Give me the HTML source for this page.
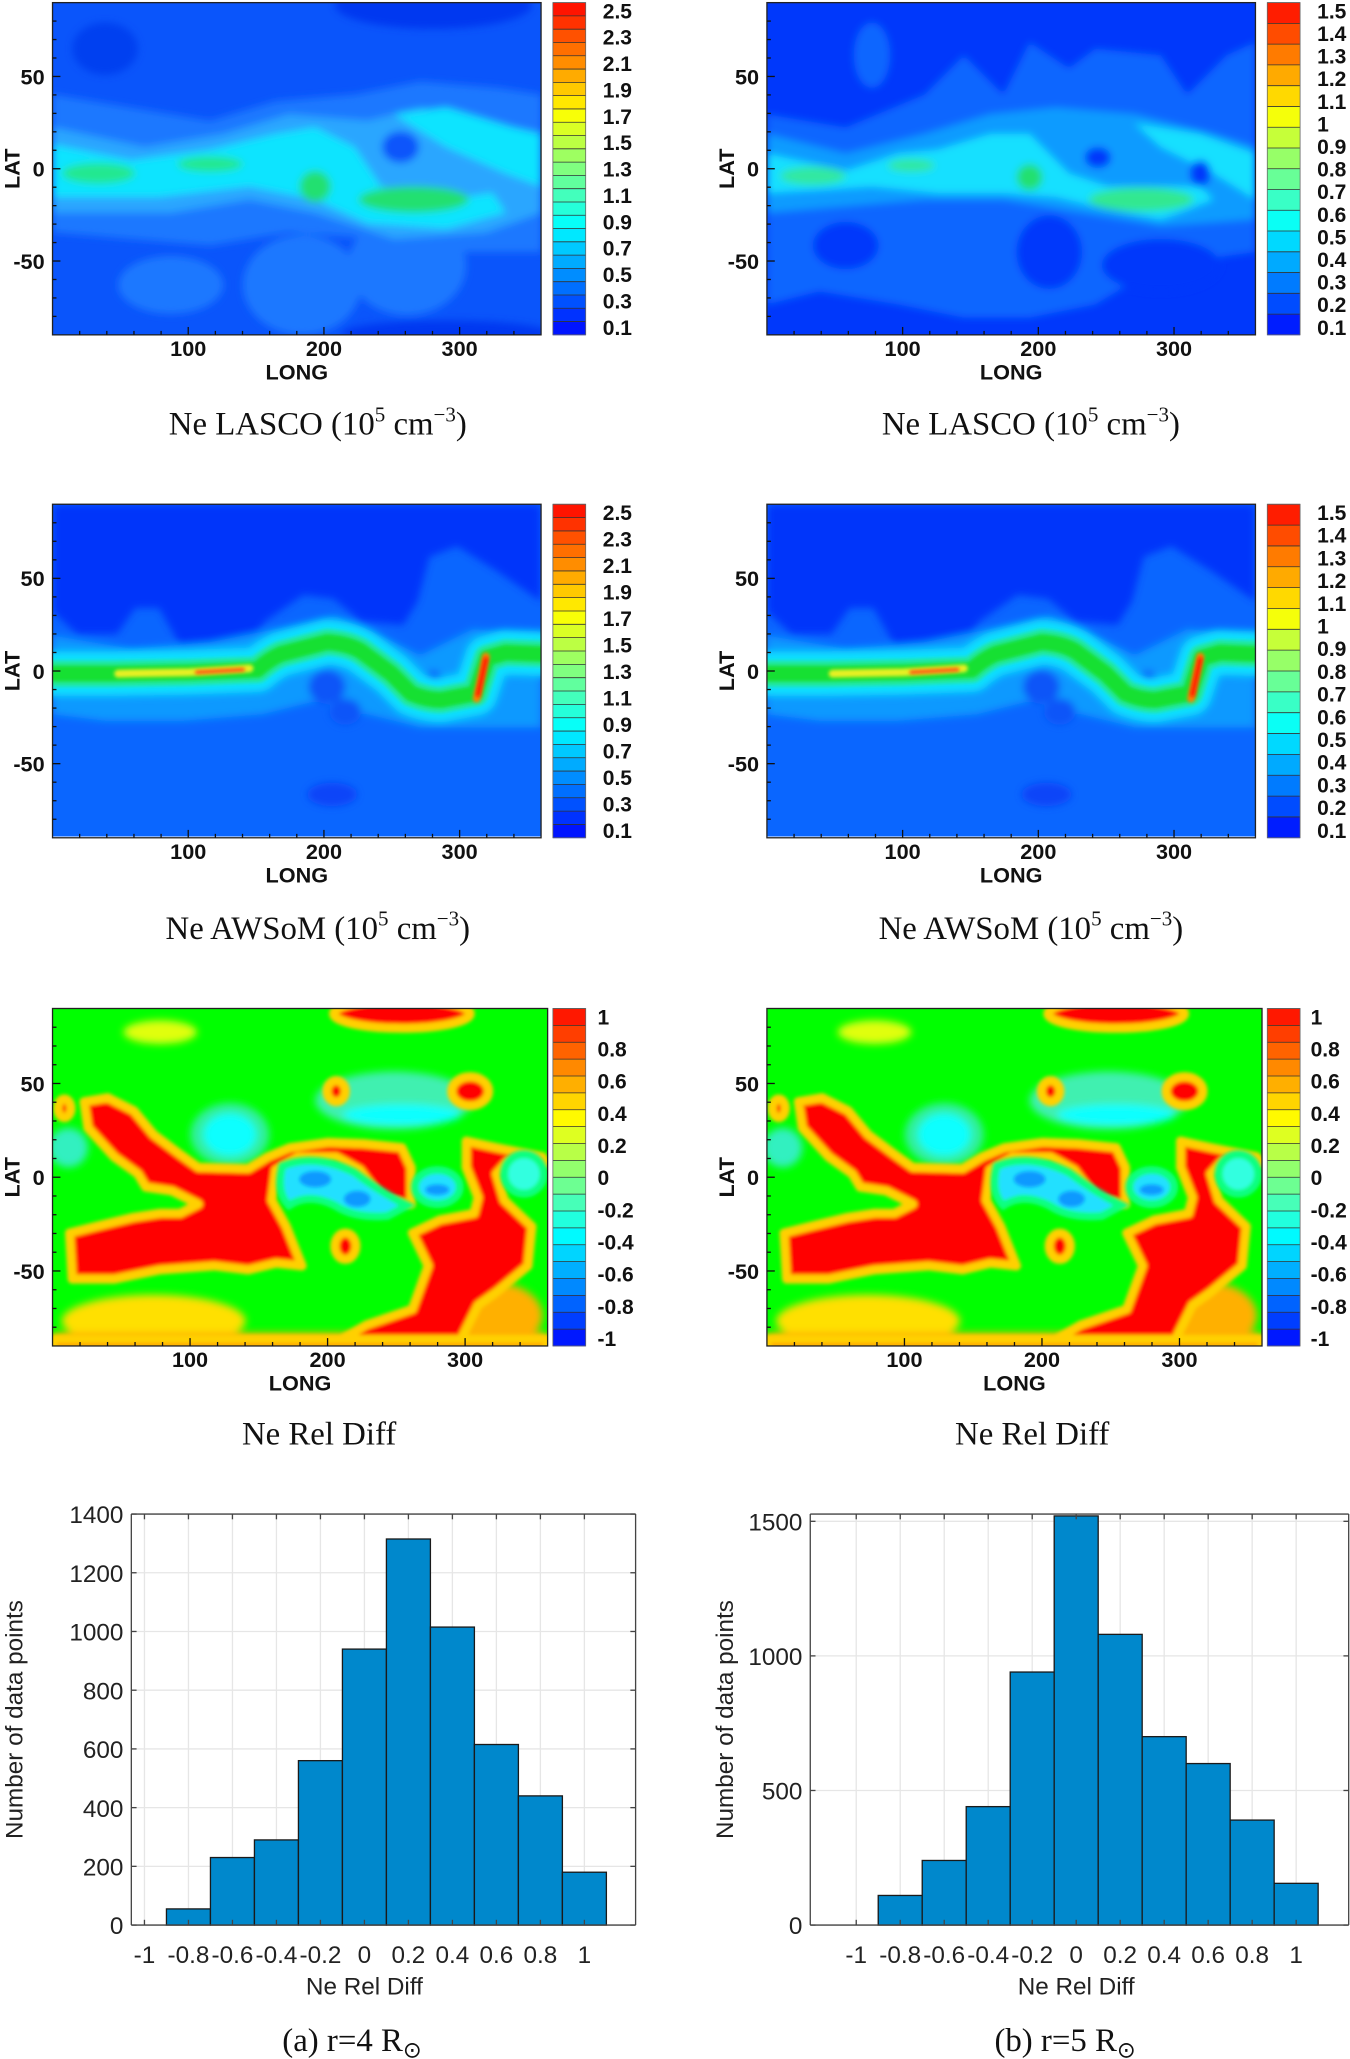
<!DOCTYPE html>
<html><head><meta charset="utf-8"><style>
html,body{margin:0;padding:0;background:#fff}
svg{display:block}
.ax{font-family:"Liberation Sans",sans-serif;font-weight:bold;font-size:16.5px;fill:#111}
.cb{font-family:"Liberation Sans",sans-serif;font-weight:bold;font-size:16px;fill:#111}
.cap{font-family:"Liberation Serif",serif;font-size:25px;fill:#111}
.h{font-family:"Liberation Sans",sans-serif;font-size:18.5px;fill:#222}
</style></head><body>
<svg id="fig" width="1350" height="2059" viewBox="0 0 1028 1568" preserveAspectRatio="none" xmlns="http://www.w3.org/2000/svg">
<defs>
<filter id="bl" filterUnits="userSpaceOnUse" x="-50" y="-50" width="500" height="400"><feGaussianBlur stdDeviation="3"/></filter>
<filter id="bs" filterUnits="userSpaceOnUse" x="-50" y="-50" width="500" height="400"><feGaussianBlur stdDeviation="1.5"/></filter>
<clipPath id="c1"><rect x="0" y="0" width="372" height="253"/></clipPath>
<clipPath id="c3"><rect x="0" y="0" width="377" height="257"/></clipPath>

<g id="lascoL">
 <rect x="0" y="0" width="372" height="253" fill="#0a55fb"/>
 <g filter="url(#bl)">
  <ellipse cx="290" cy="2" rx="75" ry="18" fill="#0038f0"/>
  <ellipse cx="300" cy="252" rx="80" ry="10" fill="#0038f0"/>
  <ellipse cx="40" cy="35" rx="25" ry="20" fill="#0040f0"/>
  <path d="M0,70 L60,80 L120,90 L170,75 L230,70 L280,60 L340,65 L372,70 L372,190 L300,190 L250,180 L180,175 L120,185 L60,180 L0,175Z" fill="#1a78ff"/>
  <ellipse cx="90" cy="215" rx="40" ry="22" fill="#1a78ff"/>
  <ellipse cx="190" cy="215" rx="45" ry="38" fill="#1a78ff"/>
  <ellipse cx="270" cy="200" rx="45" ry="38" fill="#1a78ff"/>
  <path d="M0,95 L70,110 L130,100 L180,85 L240,90 L280,80 L340,95 L372,100 L372,160 L330,175 L260,180 L200,160 L150,150 L90,160 L0,160Z" fill="#2aa6ff"/>
  <path d="M0,108 L60,120 L120,112 L170,100 L200,95 L230,110 L250,140 L300,150 L335,145 L345,160 L300,172 L240,168 L200,150 L150,140 L80,148 L0,148Z" fill="#10e4ff"/>
  <path d="M260,85 L300,80 L350,95 L372,100 L372,140 L345,130 L300,110 Z" fill="#10e4ff"/>
  <ellipse cx="35" cy="130" rx="28" ry="8" fill="#20e890"/>
  <ellipse cx="120" cy="123" rx="25" ry="6" fill="#20e890"/>
  <ellipse cx="200" cy="140" rx="12" ry="12" fill="#20e070"/>
  <ellipse cx="275" cy="150" rx="42" ry="10" fill="#20e070"/>
  <ellipse cx="265" cy="110" rx="14" ry="12" fill="#0a55fb"/>
 </g>
</g>

<g id="lascoR">
 <rect x="0" y="0" width="372" height="253" fill="#0038fb"/>
 <g filter="url(#bl)">
  <ellipse cx="80" cy="40" rx="14" ry="25" fill="#0a66ff"/>
  <path d="M0,85 L60,95 L120,70 L150,40 L180,70 L200,30 L230,50 L250,35 L300,40 L320,70 L350,40 L372,30 L372,190 L300,200 L250,230 L200,240 L150,240 L100,230 L40,220 L0,230Z" fill="#0a66ff"/>
  <ellipse cx="60" cy="185" rx="25" ry="18" fill="#0038fb"/>
  <ellipse cx="215" cy="190" rx="25" ry="28" fill="#0038fb"/>
  <ellipse cx="300" cy="200" rx="45" ry="20" fill="#0038fb"/>
  <path d="M0,100 L60,115 L120,100 L170,85 L220,80 L280,85 L340,100 L372,110 L372,165 L300,170 L240,160 L180,150 L120,150 L60,155 L0,160Z" fill="#0a9bff"/>
  <path d="M0,115 L60,128 L100,115 L130,112 L170,100 L200,100 L230,130 L260,140 L330,140 L340,150 L300,165 L250,155 L220,148 L180,145 L130,145 L80,140 L0,145Z" fill="#12e0ff"/>
  <path d="M280,92 L330,100 L372,115 L372,150 L340,130 L300,110Z" fill="#12e0ff"/>
  <ellipse cx="35" cy="132" rx="25" ry="7" fill="#30e8a0"/>
  <ellipse cx="110" cy="124" rx="18" ry="5" fill="#30e8a0"/>
  <ellipse cx="200" cy="133" rx="10" ry="10" fill="#20e070"/>
  <ellipse cx="285" cy="150" rx="40" ry="9" fill="#30e890"/>
  <ellipse cx="252" cy="118" rx="10" ry="8" fill="#0038fb"/>
  <ellipse cx="330" cy="130" rx="8" ry="10" fill="#0038fb"/>
 </g>
</g>

<g id="awsom">
 <rect x="0" y="0" width="372" height="254" fill="#0a66ff"/>
 <g filter="url(#bl)">
  <path d="M0,0 L372,0 L372,74 L337,50 L308,32 L287,40 L278,74 L267,92 L235,89 L214,72 L191,69 L162,89 L145,112 L98,109 L81,79 L63,79 L49,99 L19,99 L0,82Z" fill="#0036fa"/>
  <path d="M0,100 L60,110 L120,105 L170,95 L215,85 L250,100 L280,115 L320,95 L372,100 L372,170 L320,170 L280,170 L240,160 L200,150 L160,160 L100,165 L40,165 L0,160Z" fill="#0a99ff"/>
  <ellipse cx="209" cy="139" rx="14" ry="13" fill="#0a55f8"/>
  <ellipse cx="223" cy="158" rx="12" ry="10" fill="#0a55f8"/>
  <ellipse cx="213" cy="221" rx="19" ry="9" fill="#0a44f8"/>
  <ellipse cx="290" cy="133" rx="6" ry="6" fill="#0a44f8"/>
 </g>
 <g fill="none" stroke-linecap="round" stroke-linejoin="round">
  <path d="M-5,129 L46,129 L104,128 L156,126 Q165,118 174,114 L209,105 Q225,106 235,112 L258,129 L273,144 Q285,149 296,149 L322,144 L331,117 L345,113 L377,114" stroke="#10e0ff" stroke-width="34" filter="url(#bl)"/>
  <path d="M-5,129 L46,129 L104,128 L156,126 Q165,118 174,114 L209,105 Q225,106 235,112 L258,129 L273,144 Q285,149 296,149 L322,144 L331,117 L345,113 L377,114" stroke="#20e8a0" stroke-width="20" filter="url(#bs)"/>
  <path d="M0,129 L46,129 L104,128 L156,126 Q165,118 174,114 L209,105 Q225,106 235,112 L258,129 L273,144 Q285,149 296,149 L322,144 L331,117 L345,113 L372,114" stroke="#18e030" stroke-width="12" filter="url(#bs)"/>
  <path d="M50,129 L104,128 L150,125" stroke="#e8f020" stroke-width="6" filter="url(#bs)"/>
  <path d="M110,128 L145,126" stroke="#ff5010" stroke-width="3" filter="url(#bs)"/>
  <path d="M330,116 L323,148" stroke="#ff8000" stroke-width="6" filter="url(#bs)"/>
  <path d="M330,118 L324,145" stroke="#ff1000" stroke-width="3" filter="url(#bs)"/>
 </g>
</g>

<g id="rel">
 <rect x="0" y="0" width="377" height="257" fill="#00ff00"/>
 <g filter="url(#bl)">
  <ellipse cx="135" cy="96" rx="30" ry="24" fill="#30f0a0"/>
  <ellipse cx="260" cy="70" rx="60" ry="22" fill="#40f0b0"/>
  <ellipse cx="135" cy="96" rx="20" ry="16" fill="#10ffff"/>
  <ellipse cx="266" cy="81" rx="45" ry="8" fill="#10ffff"/>
  <ellipse cx="12" cy="106" rx="15" ry="15" fill="#30f0c0"/>
  <ellipse cx="82" cy="18" rx="28" ry="9" fill="#e0ff10"/>
  <ellipse cx="77" cy="238" rx="70" ry="20" fill="#ffe000"/>
  <ellipse cx="338" cy="234" rx="35" ry="25" fill="#ffb000"/>
  <rect x="0" y="247" width="377" height="10" fill="#ffb000"/>
 </g>
 <g stroke="#ffd000" stroke-width="7" stroke-linejoin="round" filter="url(#bs)">
  <path fill="#ff0000" d="M24,71 L42,68 L62,78 L77,96 L97,111 L111,121 L149,122 L164,113 L181,106 L210,102 L237,103 L266,106 L273,121 L273,149 L251,146 L234,123 L216,113 L187,113 L170,123 L167,146 L178,166 L190,196 L170,194 L149,199 L123,196 L82,199 L47,206 L15,206 L13,171 L33,166 L62,159 L82,156 L97,156 L111,149 L91,139 L71,136 L65,126 L47,113 L27,91Z"/>
  <path fill="#ff0000" d="M315,101 L338,106 L373,113 L376,118 L347,116 L338,126 L344,146 L365,166 L362,196 L338,216 L324,226 L309,256 L213,256 L239,241 L274,229 L286,196 L274,171 L295,161 L321,156 L324,144 L315,121Z"/>
  <ellipse cx="223" cy="181" rx="8" ry="10" fill="#ff0000"/>
  <ellipse cx="216" cy="63" rx="7" ry="8" fill="#ff0000"/>
  <ellipse cx="318" cy="63" rx="14" ry="11" fill="#ff0000"/>
  <ellipse cx="266" cy="4" rx="52" ry="11" fill="#ff0000"/>
  <ellipse cx="9" cy="76" rx="5" ry="7" fill="#ff2000"/>
  <rect x="0" y="252" width="377" height="8" fill="#ff2000"/>
 </g>
 <g stroke="#10ff80" stroke-width="6" filter="url(#bs)">
  <path fill="#20e0ff" d="M175,120 Q200,110 230,125 Q250,140 270,150 L255,158 Q230,160 215,150 Q195,140 180,150 Q170,140 175,120Z"/>
  <ellipse cx="293" cy="136" rx="17" ry="13" fill="#20e0ff"/>
  <ellipse cx="359" cy="126" rx="15" ry="15" fill="#30ffe0"/>
 </g>
 <g filter="url(#bs)">
  <ellipse cx="200" cy="130" rx="12" ry="6" fill="#0a99ff"/>
  <ellipse cx="232" cy="145" rx="10" ry="6" fill="#0a99ff"/>
  <ellipse cx="293" cy="138" rx="9" ry="4" fill="#0a99ff"/>
 </g>
</g>
</defs>

<g id="maps"></g>
<g id="hists"></g>
</svg>

<script>
// Histogram data (bin centers and counts)
const binCenters = [-0.8,-0.6,-0.4,-0.2,0,0.2,0.4,0.6,0.8,1.0];
const countsR4 = [55,230,290,560,940,1315,1015,615,440,180];
const countsR5 = [110,240,440,940,1520,1080,700,600,390,155];
const xTickLabels = ["-1","-0.8","-0.6","-0.4","-0.2","0","0.2","0.4","0.6","0.8","1"];
const xTickValues = [-1,-0.8,-0.6,-0.4,-0.2,0,0.2,0.4,0.6,0.8,1];
const yTicksR4 = [0,200,400,600,800,1000,1200,1400];
const yTicksR5 = [0,500,1000,1500];
const lonTicks = [100,200,300];
const latTicks = [50,0,-50];
const cbLevels25 = ["2.5","2.3","2.1","1.9","1.7","1.5","1.3","1.1","0.9","0.7","0.5","0.3","0.1"];
const cbLevels15 = ["1.5","1.4","1.3","1.2","1.1","1","0.9","0.8","0.7","0.6","0.5","0.4","0.3","0.2","0.1"];
const cbLevelsRel = ["1","0.8","0.6","0.4","0.2","0","-0.2","-0.4","-0.6","-0.8","-1"];

const NS="http://www.w3.org/2000/svg";
function mk(tag,attrs,parent,text){const e=document.createElementNS(NS,tag);for(const k in attrs)e.setAttribute(k,attrs[k]);if(text!==undefined)e.textContent=text;parent.appendChild(e);return e;}
function jet(t){
  t=0.13+0.74*t;
  const c=v=>Math.max(0,Math.min(1,v));
  const r=c(1.5-Math.abs(4*t-3)),g=c(1.5-Math.abs(4*t-2)),b=c(1.5-Math.abs(4*t-1));
  return `rgb(${Math.round(r*255)},${Math.round(g*255)},${Math.round(b*255)})`;
}

const maps=document.getElementById('maps');
function panel(x0,y0,w,h,ref,clip,cbLabels,nb,name,lblOff){
  const g=mk('g',{transform:`translate(${x0},${y0})`},maps);
  
  
  const inner=mk('g',{'clip-path':`url(#${clip})`},g);
  const u=mk('use',{href:'#'+ref},inner);
  
  
  const frame=mk('rect',{x:0,y:0,width:w,height:h,fill:'none',stroke:'#222','stroke-width':1},g);
  
  
  const sx=v=>v/360*w, sy=v=>h/2 - v/180*h;
  for(let l=20;l<360;l+=20){const len=(l%100===0)?6:3;mk('line',{x1:sx(l),x2:sx(l),y1:h,y2:h-len,stroke:'#111'},g);}
  for(let a=-80;a<=80;a+=10){const len=(a%50===0)?6:3;mk('line',{x1:0,x2:len,y1:sy(a),y2:sy(a),stroke:'#111'},g);}
  lonTicks.forEach(v=>{const t=mk('text',{x:sx(v),y:h+16,'text-anchor':'middle',class:'ax'},g,String(v));
    
    });
  latTicks.forEach(v=>{const t=mk('text',{x:-6,y:sy(v)+6,'text-anchor':'end',class:'ax'},g,String(v));
    
    });
  const xt=mk('text',{x:w/2,y:h+34,'text-anchor':'middle',class:'ax','font-size':'20'},g,'LONG');
  
  
  const yt=mk('text',{x:0,y:0,transform:`translate(${-25},${h/2}) rotate(-90)`,'text-anchor':'middle',class:'ax','font-size':'21'},g,'LAT');
  
  
  const cbx=w+9+(w>374?-5:0), cbw=25;
  const cb=mk('g',{},g);
  
  
  const bh=h/nb;
  for(let i=0;i<nb;i++){mk('rect',{x:cbx,y:i*bh,width:cbw,height:bh+0.3,fill:jet(1-(i+0.5)/nb)},cb);
    mk('line',{x1:cbx,x2:cbx+cbw,y1:i*bh,y2:i*bh,stroke:'#333','stroke-width':0.6},cb);}
  mk('rect',{x:cbx,y:0,width:cbw,height:h,fill:'none',stroke:'#666','stroke-width':0.6},cb);
  const n=cbLabels.length;
  cbLabels.forEach((s,i)=>{const yy=6+i*(h-12)/(n-1);
    const t=mk('text',{x:cbx+lblOff,y:yy+6,class:'cb'},cb,s);
    
    });
}
function cap(txt,x,y,name){const t=mk('text',{x:x,y:y,class:'cap','text-anchor':'middle'},maps);t.innerHTML=txt;
  
  }

panel(40,2,372,253,'lascoL','c1',cbLevels25,25,'lasco-map-r4',38);
panel(584,2,372,253,'lascoR','c1',cbLevels15,16,'lasco-map-r5',38);
panel(40,384,372,254,'awsom','c1',cbLevels25,25,'awsom-map-r4',38);
panel(584,384,372,254,'awsom','c1',cbLevels15,16,'awsom-map-r5',38);
panel(40,768,377,257,'rel','c3',cbLevelsRel,20,'reldiff-map-r4',34);
panel(584,768,377,257,'rel','c3',cbLevelsRel,20,'reldiff-map-r5',33);
const sup='<tspan font-size="16" dy="-10">5</tspan><tspan dy="10"> cm</tspan><tspan font-size="16" dy="-10">−3</tspan><tspan dy="10">)</tspan>';
cap('Ne LASCO (10'+sup,242,331,'caption-lasco-r4');
cap('Ne LASCO (10'+sup,785,331,'caption-lasco-r5');
cap('Ne AWSoM (10'+sup,242,715,'caption-awsom-r4');
cap('Ne AWSoM (10'+sup,785,715,'caption-awsom-r5');
cap('Ne Rel Diff',243,1100,'caption-reldiff-r4');
cap('Ne Rel Diff',786,1100,'caption-reldiff-r5');

const hists=document.getElementById('hists');
function hist(L,R,T,B,xm1,xp1,ymax,counts,yticks,name,capTxt,capX,ylabX){
  const g=mk('g',{},hists);
  
  
  const sx=v=>xm1+(v+1)/2*(xp1-xm1), sy=v=>B-v/ymax*(B-T);
  xTickValues.forEach(v=>mk('line',{x1:sx(v),x2:sx(v),y1:T,y2:B,stroke:'#e6e6e6'},g));
  yticks.forEach(v=>mk('line',{x1:L,x2:R,y1:sy(v),y2:sy(v),stroke:'#e6e6e6'},g));
  const bw=0.2;
  binCenters.forEach((c,i)=>{const r=mk('rect',{x:sx(c-bw/2),y:sy(counts[i]),width:sx(c+bw/2)-sx(c-bw/2),height:B-sy(counts[i]),fill:'#0088cc',stroke:'#1a1a1a','stroke-width':1},g);
    
    });
  mk('line',{x1:L,x2:R,y1:B,y2:B,stroke:'#444'},g);
  mk('line',{x1:L,x2:R,y1:T,y2:T,stroke:'#444'},g);
  mk('line',{x1:L,x2:L,y1:T,y2:B,stroke:'#444'},g);
  mk('line',{x1:R,x2:R,y1:T,y2:B,stroke:'#444'},g);
  xTickValues.forEach((v,i)=>{mk('line',{x1:sx(v),x2:sx(v),y1:B,y2:B-4,stroke:'#444'},g);mk('line',{x1:sx(v),x2:sx(v),y1:T,y2:T+4,stroke:'#444'},g);
    const t=mk('text',{x:sx(v),y:B+29,'text-anchor':'middle',class:'h'},g,xTickLabels[i]);
    
    });
  yticks.forEach(v=>{mk('line',{x1:L,x2:L+4,y1:sy(v),y2:sy(v),stroke:'#444'},g);mk('line',{x1:R,x2:R-4,y1:sy(v),y2:sy(v),stroke:'#444'},g);
    const t=mk('text',{x:L-6,y:sy(v)+7,'text-anchor':'end',class:'h'},g,String(v));
    
    });
  const xt=mk('text',{x:sx(0),y:B+53,'text-anchor':'middle',class:'h','font-size':'20'},g,'Ne Rel Diff');
  
  
  const yt=mk('text',{x:0,y:0,transform:`translate(${ylabX},${(T+B)/2}) rotate(-90)`,'text-anchor':'middle',class:'h','font-size':'21'},g,'Number of data points');
  
  
  const c=mk('text',{x:capX,y:1562,'text-anchor':'middle',class:'cap'},g);
  c.innerHTML=capTxt;
  
  
}
hist(100,484,1153,1466,110,445,1400,countsR4,yTicksR4,'histogram-r4','(a) r=4 R<tspan font-size="17" dy="5">⊙</tspan>',268,17);
hist(617,1027,1153,1466,652,987,1527,countsR5,yTicksR5,'histogram-r5','(b) r=5 R<tspan font-size="17" dy="5">⊙</tspan>',811,558);
</script>
</body></html>
